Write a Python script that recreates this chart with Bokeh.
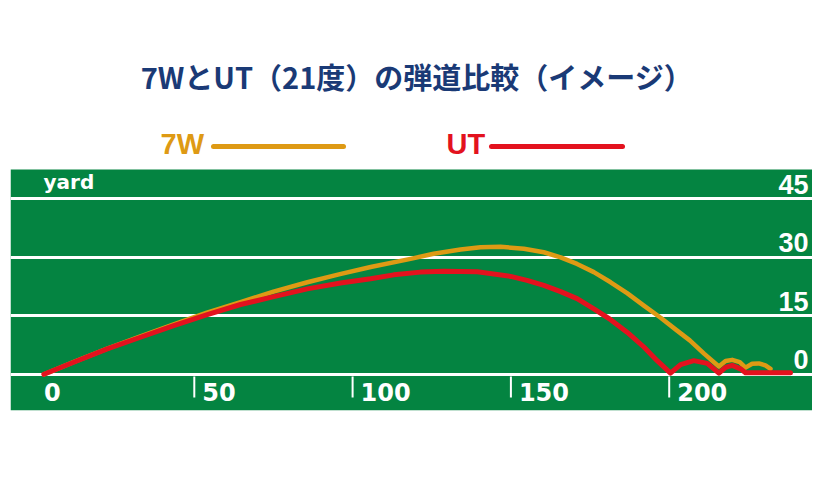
from bokeh.plotting import figure
from bokeh.models import Range1d, Grid, FixedTicker
from bokeh.core.properties import value
from bokeh.embed import file_html
from bokeh.resources import INLINE

# ---------------- data ----------------
title_text = "7WとUT（21度）の弾道比較（イメージ）"
series_names = ["7W", "UT"]
series_colors = ["#de9a14", "#e3121e"]
x_unit = "yard"
x_ticks = [0, 50, 100, 150, 200]
x_tick_labels = ["0", "50", "100", "150", "200"]
y_ticks = [0, 15, 30, 45]
y_tick_labels = ["0", "15", "30", "45"]

# 7W trajectory (carry distance in yards, height in yards)
w7_x = [2.5, 12, 22.5, 33, 43.5, 54, 64.6, 75, 85.7, 96, 105.7, 118.3, 125.6,
        134.1, 140.4, 146.7, 154.1, 160.4, 165.7, 170.9, 176.2, 181.5, 186.7,
        192, 197.3, 202.5, 206.5, 211, 215.7, 217.8, 219.9, 222.3, 224.1,
        226.2, 228.3, 230.4, 232.0]
w7_h = [0, 3.2, 6.6, 9.7, 12.8, 15.8, 18.5, 21.2, 23.6, 25.7, 27.5, 29.6, 30.9,
        32.0, 32.6, 32.7, 32.2, 31.3, 30.0, 28.3, 26.2, 23.6, 20.8,
        17.6, 14.5, 11.2, 8.7, 5.3, 2.0, 3.4, 3.7, 3.1, 1.7,
        2.7, 2.8, 2.3, 1.4]

# UT trajectory
ut_x = [2.5, 11.9, 22.5, 33, 43.5, 54.1, 64.6, 75.1, 85.7, 96.2, 105.7, 113,
        121.4, 128.8, 139.4, 149.9, 155.1, 160.4, 165.7, 170.9, 176.2, 181.5,
        186.7, 192, 196.2, 200.4, 203.6, 207.8, 212.0, 215.7, 217.8, 219.9,
        222.5, 224.1, 238.3]
ut_h = [0, 3.1, 6.5, 9.5, 12.5, 15.3, 17.9, 19.9, 21.9, 23.4, 24.5, 25.5,
        26.2, 26.4, 26.3, 25.1, 24.1, 22.8, 21.2, 19.4, 16.8, 14.0,
        10.8, 7.0, 3.5, 0.3, 2.5, 3.5, 2.8, 0.3, 1.8, 2.3,
        1.4, 0.4, 0.4]

# ---------------- layout (canvas pixels -> data units) ----------------
X0_PX, X_SCALE = 35.5, 3.166   # canvas x of 0 yd, px per yard
Y0_PX, Y_SCALE = 373.8, 3.9    # canvas y of 0 yd height, px per yard
PANEL_L, PANEL_R, PANEL_T, PANEL_B = 10, 812, 169, 410
TOP = 8


def dx(px):
    return (px - X0_PX) / X_SCALE


def dy(py):
    return (Y0_PX - py) / Y_SCALE


GREEN = "#048441"
NAVY = "#1a3a76"

p = figure(width=PANEL_R, height=PANEL_B + 20, output_backend="svg", toolbar_location=None,
           x_axis_type=None, y_axis_type=None,
           x_range=Range1d(dx(PANEL_L), dx(PANEL_R)), y_range=Range1d(dy(PANEL_B), dy(TOP)),
           min_border_left=PANEL_L, min_border_right=0, min_border_top=TOP,
           min_border_bottom=20)
p.outline_line_color = None
p.background_fill_color = "white"
p.border_fill_color = "white"

# green field panel
panel = p.quad(left=[dx(PANEL_L)], right=[dx(PANEL_R)], bottom=[dy(PANEL_B)], top=[dy(PANEL_T)],
               fill_color=GREEN, line_color=None)
panel.level = "image"

# horizontal white grid lines
grid = Grid(dimension=1, ticker=FixedTicker(ticks=y_ticks),
            grid_line_color="white", grid_line_width=3)
p.add_layout(grid)

# x tick marks (not at 0)
tx = x_ticks[1:]
p.segment(x0=tx, y0=[dy(376)] * len(tx), x1=tx, y1=[dy(397)] * len(tx),
          line_color="white", line_width=2)

# x tick labels
p.text(x=[t + 8 / X_SCALE for t in x_ticks], y=[dy(391)] * len(x_ticks),
       text=x_tick_labels, text_font=value("DejaVu Sans"), text_font_style="bold",
       text_font_size="24px", text_color="white", text_align="left",
       text_baseline="middle")

# y tick labels (right side, above grid lines)
p.text(x=[dx(808)] * len(y_ticks), y=[t + 14.5 / Y_SCALE for t in y_ticks],
       text=y_tick_labels, text_font=value("Liberation Sans"), text_font_style="bold",
       text_font_size="27px", text_color="white", text_align="right",
       text_baseline="middle")

# unit label
p.text(x=[dx(43)], y=[dy(181)], text=[x_unit], text_font=value("DejaVu Sans"),
       text_font_style="bold", text_font_size="20px", text_color="white",
       text_align="left", text_baseline="middle")

# trajectories
p.line(w7_x, w7_h, line_color=series_colors[0], line_width=4.5,
       line_cap="round", line_join="round")
p.line(ut_x, ut_h, line_color=series_colors[1], line_width=5,
       line_cap="round", line_join="round")

# custom legend: name then line
leg_text_px = [160, 446]
leg_line_px = [(213, 343), (491, 622)]
for name, color, tpx, (l0, l1) in zip(series_names, series_colors, leg_text_px, leg_line_px):
    p.text(x=[dx(tpx)], y=[dy(143)], text=[name], text_font=value("Liberation Sans"),
           text_font_style="bold", text_font_size="29px", text_color=color,
           text_align="left", text_baseline="middle")
    p.segment(x0=[dx(l0)], y0=[dy(146)], x1=[dx(l1)], y1=[dy(146)],
              line_color=color, line_width=5, line_cap="round")

# title
p.text(x=[dx(416.5)], y=[dy(75)], text=[title_text],
       text_font=value("Noto Sans CJK JP"), text_font_style="bold",
       text_font_size="29px", text_color=NAVY, text_align="center",
       text_baseline="middle")

open("out.html", "w").write(file_html(p, INLINE))
